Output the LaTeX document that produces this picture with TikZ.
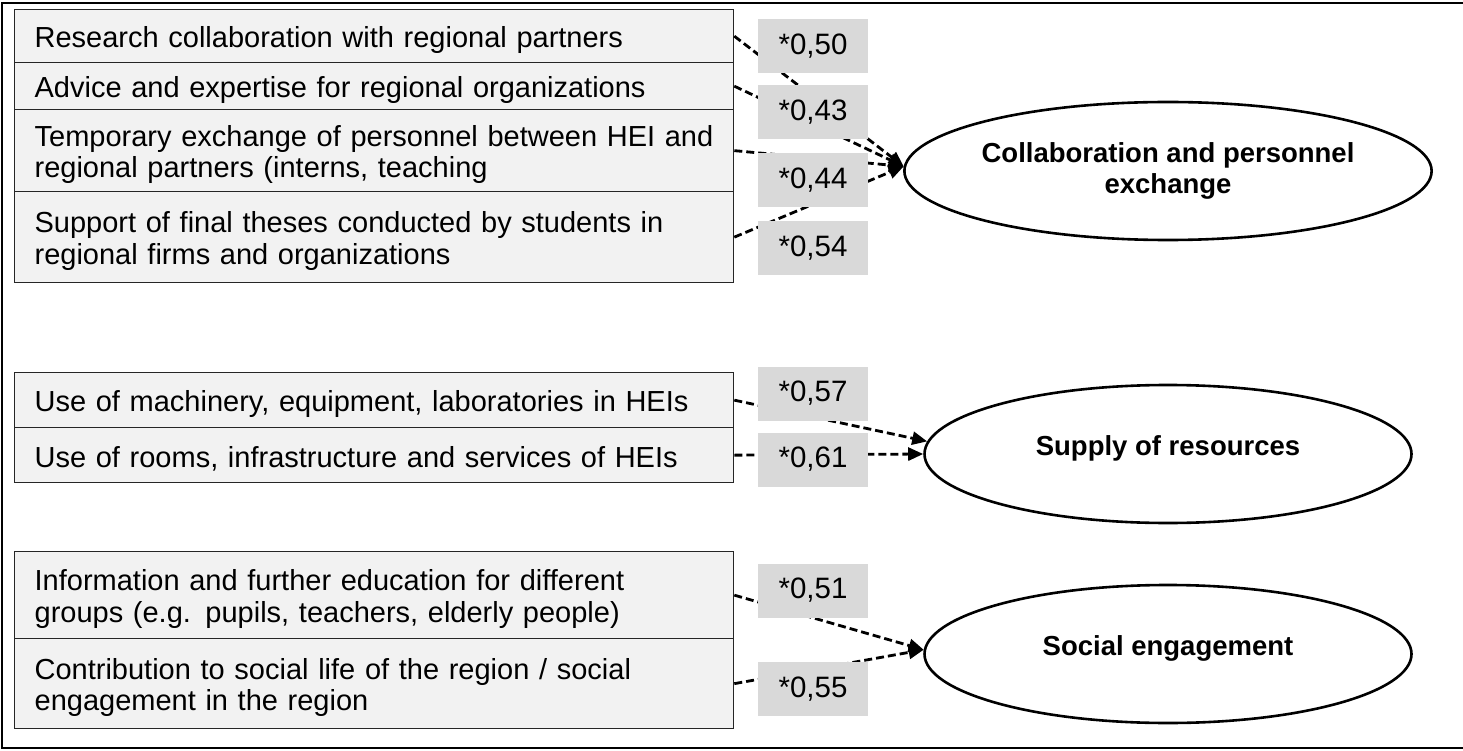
\documentclass[tikz,border=0pt]{standalone}
\usepackage{fontspec}
\setmainfont{Liberation Sans}
\usetikzlibrary{arrows.meta,shapes.geometric,calc}
\definecolor{boxfill}{HTML}{F2F2F2}
\definecolor{labfill}{HTML}{D9D9D9}
\newcommand\topstrut{\rule{0pt}{29pt}}
\begin{document}
\begin{tikzpicture}[x=1pt,y=-1pt,
  item/.style={draw=black!85, line width=1.3pt, fill=boxfill, rectangle, anchor=north west,
    minimum width=719pt, text width=679pt, inner xsep=20pt, inner ysep=0pt, align=left,
    font=\fontsize{29}{31.5}\selectfont},
  wt/.style={fill=labfill, rectangle, minimum width=110pt, minimum height=54pt, inner sep=0pt,
    font=\fontsize{29.5}{31.5}\selectfont},
  factor/.style={ellipse, draw, line width=2.6pt, fill=white, minimum width=487pt,
    minimum height=138pt, inner sep=0pt, align=center,
    font=\bfseries\fontsize{27.5}{31}\selectfont},
  load/.style={dash pattern=on 8pt off 4pt, line width=2.8pt,
    -{Triangle[length=15pt,width=13pt]}}
]
\useasboundingbox (0,0) rectangle (1463,751);
\draw[line width=2pt] (1470,3) -- (2,3) -- (2,748) -- (1470,748);

% group 1
\node[item, minimum height=53pt] (a1) at (14,9) {\topstrut Research collaboration with regional partners};
\node[item, minimum height=47pt] (a2) at (14,62) {\topstrut Advice and expertise for regional organizations};
\node[item, minimum height=82pt] (a3) at (14,109) {\topstrut Temporary exchange of personnel between HEI and\\regional partners (interns, teaching};
\node[item, minimum height=91pt] (a4) at (14,191) {\topstrut Support of final theses conducted by students in\\regional firms and organizations};
\node[factor] (f1) at (1168,171) {Collaboration and personnel\\exchange};

% group 2
\node[item, minimum height=55pt] (b1) at (14,372) {\topstrut Use of machinery, equipment, laboratories in HEIs};
\node[item, minimum height=55pt] (b2) at (14,427) {\topstrut Use of rooms, infrastructure and services of HEIs};
\node[factor] (f2) at (1168,454) {Supply of resources\rule[-16pt]{0pt}{1pt}};

% group 3
\node[item, minimum height=87pt] (c1) at (14,551) {\topstrut Information and further education for different\\groups (e.g. pupils, teachers, elderly people)};
\node[item, minimum height=90pt] (c2) at (14,638) {\topstrut Contribution to social life of the region / social\\engagement in the region};
\node[factor] (f3) at (1168,654) {Social engagement\rule[-16pt]{0pt}{1pt}};

% connectors
\draw[load] (a1.east) -- (f1.179);
\draw[load] (a2.east) -- (f1.179);
\draw[load] (a3.east) -- (f1.179);
\draw[load] (a4.east) -- (f1.179);
\draw[load] (b1.east) -- (f2.177.4);
\draw[load] (b2.east) -- (f2.west);
\draw[load] (c1.east) -- (f3.179);
\draw[load] (c2.east) -- (f3.179);

% loading labels
\node[wt] (w1) at (813,46) {*0,50};
\node[wt] (w2) at (813,112) {*0,43};
\node[wt] (w3) at (813,180) {*0,44};
\node[wt] (w4) at (813,248) {*0,54};
\node[wt] (w5) at (813,393.5) {*0,57};
\node[wt] (w6) at (813,459.5) {*0,61};
\node[wt] (w7) at (813,590.5) {*0,51};
\node[wt] (w8) at (813,689) {*0,55};
\end{tikzpicture}
\end{document}
